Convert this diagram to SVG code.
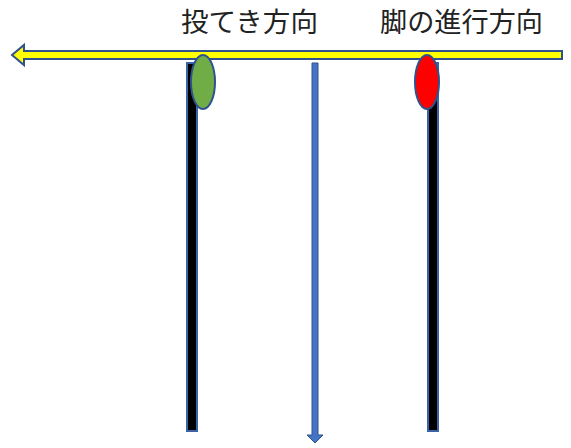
<svg xmlns="http://www.w3.org/2000/svg" width="571" height="448" viewBox="0 0 571 448">
<style>
.lbl{font-family:"Liberation Serif","Noto Sans CJK JP",serif;font-size:27px;fill:#222}
.out{stroke:#2F528F;stroke-width:2}
.bar{fill:#000;stroke:#3B63A8;stroke-width:2}
</style>
<rect width="571" height="448" fill="#fff"/>
<g id="labels">
<text class="lbl" x="181" y="32" textLength="137" lengthAdjust="spacingAndGlyphs">投てき方向</text>
<text class="lbl" x="380" y="32" textLength="163" lengthAdjust="spacingAndGlyphs">脚の進行方向</text>
</g>
<g id="bar-left"><rect class="bar" x="187" y="63" width="10" height="368"/></g>
<g id="bar-right"><rect class="bar" x="428" y="63" width="10" height="368"/></g>
<g id="connectors">
<polygon class="out" fill="#FFFF00" points="12,55 24,45 24,51 562,51 562,59 24,59 24,65"/>
<polygon fill="#4472C4" stroke="#2F528F" stroke-width="1" points="312,63 318,63 318,435 323,435 315,443 307,435 312,435"/>
</g>
<g id="ellipse-green"><ellipse class="out" fill="#70AD47" cx="203" cy="82" rx="12" ry="27"/></g>
<g id="ellipse-red"><ellipse class="out" fill="#FF0000" cx="427" cy="82" rx="12" ry="27"/></g>
</svg>
